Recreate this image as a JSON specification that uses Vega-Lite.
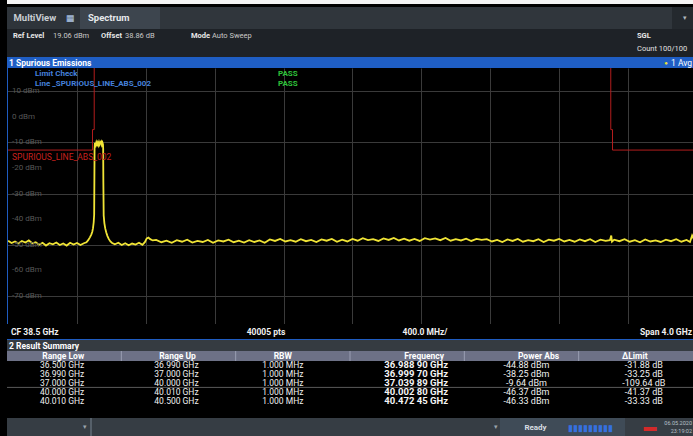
{
  "$schema": "https://vega.github.io/schema/vega-lite/v6.json",
  "background": "#000000",
  "padding": {"left": 7, "top": 0, "right": 0, "bottom": 0},
  "spacing": 0,
  "config": {
    "view": {"stroke": null},
    "font": "Roboto",
    "axis": {"labels": false, "ticks": false, "domain": false, "title": null, "gridColor": "#3a3a3a", "gridWidth": 1, "minExtent": 0, "maxExtent": 0, "offset": 0, "tickSize": 0, "labelPadding": 0, "titlePadding": 0},
    "concat": {"spacing": 0}
  },
  "datasets": {
    "limit": [
      {"i": 1, "f": 36.5, "l": -13}, {"i": 2, "f": 36.99, "l": -13}, {"i": 3, "f": 36.99, "l": -5},
      {"i": 4, "f": 37.0, "l": -5}, {"i": 5, "f": 37.0, "l": 100}, {"i": 6, "f": 40.0, "l": 100},
      {"i": 7, "f": 40.0, "l": -5}, {"i": 8, "f": 40.01, "l": -5}, {"i": 9, "f": 40.01, "l": -13},
      {"i": 10, "f": 40.5, "l": -13}
    ],
    "trace": [
      {"f": 36.5, "v": -48.4}, {"f": 36.52, "v": -49.3}, {"f": 36.54, "v": -48.7}, {"f": 36.56, "v": -49.5},
      {"f": 36.58, "v": -48.5}, {"f": 36.6, "v": -49.1}, {"f": 36.62, "v": -48.3}, {"f": 36.64, "v": -49.4},
      {"f": 36.66, "v": -49.0}, {"f": 36.68, "v": -50.0}, {"f": 36.7, "v": -49.2}, {"f": 36.72, "v": -50.3},
      {"f": 36.74, "v": -49.4}, {"f": 36.76, "v": -49.8}, {"f": 36.78, "v": -49.1}, {"f": 36.8, "v": -50.1},
      {"f": 36.82, "v": -49.5}, {"f": 36.84, "v": -50.3}, {"f": 36.86, "v": -49.2}, {"f": 36.88, "v": -49.9},
      {"f": 36.9, "v": -49.3}, {"f": 36.92, "v": -50.1}, {"f": 36.94, "v": -49.4}, {"f": 36.955, "v": -49.0},
      {"f": 36.965, "v": -48.2}, {"f": 36.975, "v": -47.1}, {"f": 36.983, "v": -46.0}, {"f": 36.9889, "v": -44.88},
      {"f": 36.993, "v": -43.5}, {"f": 36.997, "v": -41.2}, {"f": 36.9997, "v": -38.25}, {"f": 37.001, "v": -24},
      {"f": 37.002, "v": -12.5}, {"f": 37.004, "v": -10.2}, {"f": 37.008, "v": -11.0}, {"f": 37.012, "v": -10.0},
      {"f": 37.016, "v": -10.9}, {"f": 37.02, "v": -10.1}, {"f": 37.024, "v": -11.0}, {"f": 37.028, "v": -9.9},
      {"f": 37.032, "v": -10.8}, {"f": 37.036, "v": -10.0}, {"f": 37.0399, "v": -9.64}, {"f": 37.044, "v": -10.9},
      {"f": 37.048, "v": -10.1}, {"f": 37.051, "v": -10.8}, {"f": 37.052, "v": -12.5}, {"f": 37.053, "v": -25},
      {"f": 37.055, "v": -38.5}, {"f": 37.059, "v": -41.5}, {"f": 37.064, "v": -43.6}, {"f": 37.07, "v": -45.2},
      {"f": 37.077, "v": -46.6}, {"f": 37.085, "v": -47.8}, {"f": 37.094, "v": -48.7}, {"f": 37.104, "v": -49.3},
      {"f": 37.12, "v": -49.8}, {"f": 37.14, "v": -49.2}, {"f": 37.16, "v": -50.1}, {"f": 37.18, "v": -49.4},
      {"f": 37.2, "v": -50.2}, {"f": 37.22, "v": -49.5}, {"f": 37.24, "v": -49.9}, {"f": 37.26, "v": -49.2},
      {"f": 37.28, "v": -50.0}, {"f": 37.295, "v": -48.9}, {"f": 37.305, "v": -47.5}, {"f": 37.315, "v": -47.2},
      {"f": 37.325, "v": -47.8}, {"f": 37.34, "v": -48.3},
      {"f": 37.36, "v": -48.1}, {"f": 37.39, "v": -49.0}, {"f": 37.42, "v": -48.4}, {"f": 37.45, "v": -49.2},
      {"f": 37.48, "v": -48.2}, {"f": 37.51, "v": -48.8}, {"f": 37.54, "v": -48.0}, {"f": 37.57, "v": -49.1},
      {"f": 37.6, "v": -48.5}, {"f": 37.63, "v": -48.9}, {"f": 37.66, "v": -48.1}, {"f": 37.69, "v": -49.2},
      {"f": 37.72, "v": -48.3}, {"f": 37.75, "v": -48.7}, {"f": 37.78, "v": -48.0}, {"f": 37.81, "v": -49.0},
      {"f": 37.84, "v": -48.4}, {"f": 37.87, "v": -49.1}, {"f": 37.9, "v": -48.2}, {"f": 37.93, "v": -48.9},
      {"f": 37.96, "v": -48.3}, {"f": 37.99, "v": -49.2}, {"f": 38.02, "v": -47.9}, {"f": 38.05, "v": -48.5},
      {"f": 38.08, "v": -47.7}, {"f": 38.11, "v": -48.7}, {"f": 38.14, "v": -48.2}, {"f": 38.17, "v": -48.8},
      {"f": 38.2, "v": -47.8}, {"f": 38.23, "v": -48.6}, {"f": 38.26, "v": -48.1}, {"f": 38.29, "v": -48.9},
      {"f": 38.32, "v": -47.9}, {"f": 38.35, "v": -48.4}, {"f": 38.38, "v": -47.7}, {"f": 38.41, "v": -48.8},
      {"f": 38.44, "v": -48.0}, {"f": 38.47, "v": -48.7}, {"f": 38.5, "v": -47.7}, {"f": 38.53, "v": -48.4},
      {"f": 38.56, "v": -47.4}, {"f": 38.59, "v": -48.2}, {"f": 38.62, "v": -47.8}, {"f": 38.65, "v": -48.5},
      {"f": 38.68, "v": -47.5}, {"f": 38.71, "v": -48.1}, {"f": 38.74, "v": -47.3}, {"f": 38.77, "v": -48.3},
      {"f": 38.8, "v": -47.6}, {"f": 38.83, "v": -48.4}, {"f": 38.86, "v": -47.7}, {"f": 38.89, "v": -48.5},
      {"f": 38.92, "v": -47.4}, {"f": 38.95, "v": -48.0}, {"f": 38.98, "v": -47.5}, {"f": 39.01, "v": -48.2},
      {"f": 39.04, "v": -47.3}, {"f": 39.07, "v": -48.4}, {"f": 39.1, "v": -47.8}, {"f": 39.13, "v": -48.3},
      {"f": 39.16, "v": -47.6}, {"f": 39.19, "v": -48.5}, {"f": 39.22, "v": -47.7}, {"f": 39.25, "v": -48.1},
      {"f": 39.28, "v": -47.8}, {"f": 39.31, "v": -48.7}, {"f": 39.34, "v": -48.1}, {"f": 39.37, "v": -48.9},
      {"f": 39.4, "v": -47.9}, {"f": 39.43, "v": -48.5}, {"f": 39.46, "v": -47.7}, {"f": 39.49, "v": -48.8},
      {"f": 39.52, "v": -48.2}, {"f": 39.55, "v": -48.6}, {"f": 39.58, "v": -47.8}, {"f": 39.61, "v": -48.9},
      {"f": 39.64, "v": -48.0}, {"f": 39.67, "v": -48.4}, {"f": 39.7, "v": -47.7}, {"f": 39.73, "v": -48.7},
      {"f": 39.76, "v": -48.1}, {"f": 39.79, "v": -48.8}, {"f": 39.82, "v": -47.9}, {"f": 39.85, "v": -48.6},
      {"f": 39.88, "v": -47.8}, {"f": 39.91, "v": -48.9}, {"f": 39.94, "v": -48.0}, {"f": 39.97, "v": -48.5},
      {"f": 39.995, "v": -48.2}, {"f": 40.0028, "v": -46.37}, {"f": 40.007, "v": -48.8}, {"f": 40.02, "v": -48.0},
      {"f": 40.05, "v": -48.6}, {"f": 40.08, "v": -47.8}, {"f": 40.11, "v": -48.8}, {"f": 40.14, "v": -48.2},
      {"f": 40.17, "v": -49.0}, {"f": 40.2, "v": -47.9}, {"f": 40.23, "v": -48.7}, {"f": 40.26, "v": -48.3},
      {"f": 40.29, "v": -48.9}, {"f": 40.32, "v": -48.0}, {"f": 40.35, "v": -48.6}, {"f": 40.38, "v": -47.8},
      {"f": 40.41, "v": -48.8}, {"f": 40.44, "v": -48.1}, {"f": 40.46, "v": -48.9}, {"f": 40.47245, "v": -46.33},
      {"f": 40.485, "v": -48.2}
    ],
    "levels": [
      {"v": 10, "t": "10 dBm"}, {"v": 0, "t": "0 dBm"}, {"v": -10, "t": "-10 dBm"}, {"v": -20, "t": "-20 dBm"},
      {"v": -30, "t": "-30 dBm"}, {"v": -40, "t": "-40 dBm"}, {"v": -50, "t": "-50 dBm"}, {"v": -60, "t": "-60 dBm"},
      {"v": -70, "t": "-70 dBm"}
    ],
    "table": [
      {"Range Low": "36.500 GHz", "Range Up": "36.990 GHz", "RBW": "1.000 MHz", "Frequency": "36.988 90 GHz", "Power Abs": "-44.88 dBm", "ΔLimit": "-31.88 dB"},
      {"Range Low": "36.990 GHz", "Range Up": "37.000 GHz", "RBW": "1.000 MHz", "Frequency": "36.999 70 GHz", "Power Abs": "-38.25 dBm", "ΔLimit": "-33.25 dB"},
      {"Range Low": "37.000 GHz", "Range Up": "40.000 GHz", "RBW": "1.000 MHz", "Frequency": "37.039 89 GHz", "Power Abs": "-9.64 dBm", "ΔLimit": "-109.64 dB"},
      {"Range Low": "40.000 GHz", "Range Up": "40.010 GHz", "RBW": "1.000 MHz", "Frequency": "40.002 80 GHz", "Power Abs": "-46.37 dBm", "ΔLimit": "-41.37 dB"},
      {"Range Low": "40.010 GHz", "Range Up": "40.500 GHz", "RBW": "1.000 MHz", "Frequency": "40.472 45 GHz", "Power Abs": "-46.33 dBm", "ΔLimit": "-33.33 dB"}
    ],
    "cols": [
      {"c": "Range Low"}, {"c": "Range Up"}, {"c": "RBW"}, {"c": "Frequency"}, {"c": "Power Abs"}, {"c": "ΔLimit"}
    ],
    "one": [{}]
  },
  "vconcat": [
    {"width": 686, "height": 4, "view": {"fill": "#f4f4f4"}, "data": {"name": "one"}, "mark": {"type": "text", "text": "", "clip": true}},
    {"width": 686, "height": 3, "view": {"fill": "#000000"}, "data": {"name": "one"}, "mark": {"type": "text", "text": "", "clip": true}},
    {
      "hconcat": [
        {"width": 73, "height": 22, "view": {"fill": "#2e343a"}, "data": {"name": "one"}, "layer": [
          {"mark": {"type": "text", "text": "MultiView", "align": "left", "dx": -30, "fontSize": 9.5, "fontWeight": "bold", "color": "#c9ced3", "clip": true}},
          {"mark": {"type": "text", "text": "▦", "dx": 27, "fontSize": 9, "color": "#b8d0f0", "clip": true}}
        ]},
        {"width": 80, "height": 22, "view": {"fill": "#3d454e"}, "data": {"name": "one"},
          "mark": {"type": "text", "text": "Spectrum", "align": "left", "dx": -32, "fontSize": 9.5, "fontWeight": "bold", "color": "#e6e9ec", "clip": true}},
        {"width": 512, "height": 22, "view": {"fill": "#30363c"}, "data": {"name": "one"}, "mark": {"type": "text", "text": "", "clip": true}},
        {"width": 21, "height": 22, "view": {"fill": "#24292e"}, "data": {"name": "one"},
          "mark": {"type": "text", "text": "▾", "dx": 2, "fontSize": 7, "color": "#b0b6bc", "clip": true}}
      ],
      "spacing": 0
    },
    {"width": 686, "height": 28, "view": {"fill": "#1e2227"}, "data": {"name": "one"}, "layer": [
      {"mark": {"type": "text", "text": "Ref Level", "align": "left", "dx": -337, "dy": -7, "fontSize": 7.5, "fontWeight": "bold", "color": "#e8e8e8", "clip": true}},
      {"mark": {"type": "text", "text": "19.06 dBm", "align": "left", "dx": -297, "dy": -7, "fontSize": 7.5, "color": "#c8c8c8", "clip": true}},
      {"mark": {"type": "text", "text": "Offset", "align": "left", "dx": -249, "dy": -7, "fontSize": 7.5, "fontWeight": "bold", "color": "#e8e8e8", "clip": true}},
      {"mark": {"type": "text", "text": "38.86 dB", "align": "left", "dx": -225, "dy": -7, "fontSize": 7.5, "color": "#c8c8c8", "clip": true}},
      {"mark": {"type": "text", "text": "Mode", "align": "left", "dx": -159, "dy": -7, "fontSize": 7.5, "fontWeight": "bold", "color": "#e8e8e8", "clip": true}},
      {"mark": {"type": "text", "text": "Auto Sweep", "align": "left", "dx": -138, "dy": -7, "fontSize": 7.5, "color": "#c8c8c8", "clip": true}},
      {"mark": {"type": "text", "text": "SGL", "align": "left", "dx": 287, "dy": -7, "fontSize": 7.5, "fontWeight": "bold", "color": "#e8e8e8", "clip": true}},
      {"mark": {"type": "text", "text": "Count 100/100", "align": "left", "dx": 287, "dy": 6, "fontSize": 7.5, "color": "#e0e0e0", "clip": true}}
    ]},
    {"width": 686, "height": 11, "view": {"fill": "#1f5ec4"}, "data": {"name": "one"}, "layer": [
      {"mark": {"type": "text", "text": "1 Spurious Emissions", "align": "left", "dx": -341, "fontSize": 8.5, "fontWeight": "bold", "color": "#ffffff", "clip": true}},
      {"mark": {"type": "text", "text": "●", "dx": 316, "fontSize": 6, "color": "#ece43a", "clip": true}},
      {"mark": {"type": "text", "text": "1 Avg", "align": "left", "dx": 321, "fontSize": 8.5, "color": "#ffffff", "clip": true}}
    ]},
    {
      "width": 686, "height": 256,
      "view": {"fill": "#000000"},
      "layer": [
        {"data": {"name": "limit"}, "mark": {"type": "line", "color": "#b31d1d", "strokeWidth": 1, "clip": true},
          "encoding": {
            "x": {"field": "f", "type": "quantitative", "title": null, "scale": {"domain": [36.4935, 40.4775], "nice": false, "zero": false},
              "axis": {"values": [36.9, 37.3, 37.7, 38.1, 38.5, 38.9, 39.3, 39.7, 40.1], "grid": true, "title": null}},
            "y": {"field": "l", "type": "quantitative", "title": null, "scale": {"domain": [-80.94, 19.06], "nice": false, "zero": false},
              "axis": {"values": [10, 0, -10, -20, -30, -40, -50, -60, -70], "grid": true, "title": null}},
            "order": {"field": "i", "type": "quantitative"}
          }},
        {"data": {"name": "trace"}, "mark": {"type": "line", "color": "#f0e436", "strokeWidth": 1.8, "clip": true},
          "encoding": {
            "x": {"field": "f", "type": "quantitative", "title": null},
            "y": {"field": "v", "type": "quantitative", "title": null}
          }},
        {"data": {"name": "one"}, "mark": {"type": "rule", "color": "#1f5cc0", "strokeWidth": 2, "clip": true},
          "encoding": {"x": {"datum": 36.4935, "type": "quantitative", "title": null}}},
        {"data": {"name": "levels"}, "mark": {"type": "text", "align": "left", "dx": 5, "fontSize": 8, "color": "#575757", "clip": true},
          "encoding": {
            "x": {"datum": 36.4935, "type": "quantitative", "title": null},
            "y": {"field": "v", "type": "quantitative", "title": null},
            "text": {"field": "t"}
          }},
        {"data": {"name": "one"}, "mark": {"type": "text", "text": "Limit Check", "align": "left", "fontSize": 8, "fontWeight": "bold", "color": "#4580dc", "clip": true},
          "encoding": {"x": {"datum": 36.656, "type": "quantitative", "title": null}, "y": {"datum": 16.7, "type": "quantitative", "title": null}}},
        {"data": {"name": "one"}, "mark": {"type": "text", "text": "Line _SPURIOUS_LINE_ABS_002", "align": "left", "fontSize": 8, "fontWeight": "bold", "color": "#4580dc", "clip": true},
          "encoding": {"x": {"datum": 36.656, "type": "quantitative", "title": null}, "y": {"datum": 12.8, "type": "quantitative", "title": null}}},
        {"data": {"name": "one"}, "mark": {"type": "text", "text": "PASS", "align": "left", "fontSize": 8, "fontWeight": "bold", "color": "#2fc23a", "clip": true},
          "encoding": {"x": {"datum": 38.067, "type": "quantitative", "title": null}, "y": {"datum": 16.7, "type": "quantitative", "title": null}}},
        {"data": {"name": "one"}, "mark": {"type": "text", "text": "PASS", "align": "left", "fontSize": 8, "fontWeight": "bold", "color": "#2fc23a", "clip": true},
          "encoding": {"x": {"datum": 38.067, "type": "quantitative", "title": null}, "y": {"datum": 12.8, "type": "quantitative", "title": null}}},
        {"data": {"name": "one"}, "mark": {"type": "text", "text": "SPURIOUS_LINE_ABS_002", "align": "left", "fontSize": 8.5, "color": "#c8201e", "clip": true},
          "encoding": {"x": {"datum": 36.5225, "type": "quantitative", "title": null}, "y": {"datum": -15.7, "type": "quantitative", "title": null}}}
      ]
    },
    {"width": 686, "height": 15, "view": {"fill": "#000000"}, "data": {"name": "one"}, "layer": [
      {"mark": {"type": "text", "text": "CF 38.5 GHz", "align": "left", "dx": -339, "fontSize": 8.5, "fontWeight": "bold", "color": "#f0f0f0", "clip": true}},
      {"mark": {"type": "text", "text": "40005 pts", "dx": -84, "fontSize": 8.5, "fontWeight": "bold", "color": "#f0f0f0", "clip": true}},
      {"mark": {"type": "text", "text": "400.0 MHz/", "dx": 75, "fontSize": 8.5, "fontWeight": "bold", "color": "#f0f0f0", "clip": true}},
      {"mark": {"type": "text", "text": "Span 4.0 GHz", "align": "right", "dx": 342, "fontSize": 8.5, "fontWeight": "bold", "color": "#f0f0f0", "clip": true}}
    ]},
    {"width": 686, "height": 1, "view": {"fill": "#1f5cc0"}, "data": {"name": "one"}, "mark": {"type": "text", "text": "", "clip": true}},
    {"width": 686, "height": 11, "view": {"fill": "#353b41"}, "data": {"name": "one"},
      "mark": {"type": "text", "text": "2 Result Summary", "align": "left", "dx": -341, "fontSize": 8.5, "fontWeight": "bold", "color": "#ffffff", "clip": true}},
    {"width": 686, "height": 10, "view": {"fill": "#6d7186"}, "data": {"name": "cols"}, "layer": [
      {"transform": [{"filter": {"field": "c", "oneOf": ["Range Up", "RBW", "Frequency", "Power Abs", "ΔLimit"]}}],
        "mark": {"type": "rule", "color": "#9a9eb2", "clip": true},
        "encoding": {"x": {"field": "c", "type": "nominal", "bandPosition": 0, "axis": null,
          "scale": {"type": "band", "domain": ["Range Low", "Range Up", "RBW", "Frequency", "Power Abs", "ΔLimit"], "paddingInner": 0, "paddingOuter": 0}}}},
      {"transform": [{"filter": {"field": "c", "oneOf": ["Range Low", "Range Up", "ΔLimit"]}}],
        "mark": {"type": "text", "dx": -1, "fontSize": 8.5, "fontWeight": "bold", "color": "#ffffff", "clip": true},
        "encoding": {"x": {"field": "c", "type": "nominal", "axis": null,
          "scale": {"type": "band", "domain": ["Range Low", "Range Up", "RBW", "Frequency", "Power Abs", "ΔLimit"], "paddingInner": 0, "paddingOuter": 0}},
          "text": {"field": "c"}}},
      {"transform": [{"filter": {"field": "c", "equal": "RBW"}}],
        "mark": {"type": "text", "dx": -10, "fontSize": 8.5, "fontWeight": "bold", "color": "#ffffff", "clip": true},
        "encoding": {"x": {"field": "c", "type": "nominal", "axis": null,
          "scale": {"type": "band", "domain": ["Range Low", "Range Up", "RBW", "Frequency", "Power Abs", "ΔLimit"], "paddingInner": 0, "paddingOuter": 0}},
          "text": {"field": "c"}}},
      {"transform": [{"filter": {"field": "c", "oneOf": ["Frequency", "Power Abs"]}}],
        "mark": {"type": "text", "dx": 17, "fontSize": 8.5, "fontWeight": "bold", "color": "#ffffff", "clip": true},
        "encoding": {"x": {"field": "c", "type": "nominal", "axis": null,
          "scale": {"type": "band", "domain": ["Range Low", "Range Up", "RBW", "Frequency", "Power Abs", "ΔLimit"], "paddingInner": 0, "paddingOuter": 0}},
          "text": {"field": "c"}}}
    ]},
    {"width": 686, "height": 44, "view": {"fill": "#000000"}, "data": {"name": "table"},
      "transform": [{"fold": ["Range Low", "Range Up", "RBW", "Frequency", "Power Abs", "ΔLimit"]}],
      "encoding": {
        "x": {"field": "key", "type": "nominal", "axis": null,
          "scale": {"type": "band", "domain": ["Range Low", "Range Up", "RBW", "Frequency", "Power Abs", "ΔLimit"], "paddingInner": 0, "paddingOuter": 0}},
        "y": {"field": "Range Low", "type": "ordinal", "axis": null,
          "scale": {"type": "band", "domain": ["36.500 GHz", "36.990 GHz", "37.000 GHz", "40.000 GHz", "40.010 GHz"], "paddingInner": 0, "paddingOuter": 0}},
        "text": {"field": "value"}
      },
      "layer": [
        {"transform": [{"filter": {"field": "key", "equal": "Range Low"}}, {"filter": {"field": "Range Low", "equal": "40.000 GHz"}}],
          "mark": {"type": "rule", "color": "#5a5a5a", "clip": true},
          "encoding": {"x": null, "text": null,
            "y": {"field": "Range Low", "type": "ordinal", "bandPosition": 0, "axis": null,
              "scale": {"type": "band", "domain": ["36.500 GHz", "36.990 GHz", "37.000 GHz", "40.000 GHz", "40.010 GHz"], "paddingInner": 0, "paddingOuter": 0}}}},
        {"transform": [{"filter": {"field": "key", "oneOf": ["Range Low", "Range Up"]}}],
          "mark": {"type": "text", "dx": -2, "fontSize": 8.5, "color": "#f0f0f0", "clip": true}},
        {"transform": [{"filter": {"field": "key", "equal": "RBW"}}],
          "mark": {"type": "text", "dx": -10, "fontSize": 8.5, "color": "#f0f0f0", "clip": true}},
        {"transform": [{"filter": {"field": "key", "equal": "Frequency"}}],
          "mark": {"type": "text", "dx": 9, "fontSize": 9.5, "fontWeight": "bold", "color": "#f4f4f4", "clip": true}},
        {"transform": [{"filter": {"field": "key", "equal": "Power Abs"}}],
          "mark": {"type": "text", "dx": 5, "fontSize": 9, "color": "#f0f0f0", "clip": true}},
        {"transform": [{"filter": {"field": "key", "equal": "ΔLimit"}}],
          "mark": {"type": "text", "dx": 8, "fontSize": 9, "color": "#f0f0f0", "clip": true}}
      ]
    },
    {"width": 686, "height": 13, "view": {"fill": "#000000"}, "data": {"name": "one"}, "mark": {"type": "text", "text": "", "clip": true}},
    {
      "hconcat": [
        {"width": 83, "height": 18, "view": {"fill": "#363d44"}, "data": {"name": "one"},
          "mark": {"type": "text", "text": "▾", "dx": 36, "fontSize": 7, "color": "#9aa3ab", "clip": true}},
        {"width": 2, "height": 18, "view": {"fill": "#56606a"}, "data": {"name": "one"}, "mark": {"type": "text", "text": "", "clip": true}},
        {"width": 408, "height": 18, "view": {"fill": "#363d44"}, "data": {"name": "one"},
          "mark": {"type": "text", "text": "▾", "dx": 200, "fontSize": 7, "color": "#9aa3ab", "clip": true}},
        {"width": 125, "height": 18, "view": {"fill": "#3f4b57"}, "data": {"name": "one"}, "layer": [
          {"mark": {"type": "text", "text": "Ready", "dx": -27, "dy": 1, "fontSize": 8, "fontWeight": "bold", "color": "#d8dde2", "clip": true}},
          {"mark": {"type": "text", "text": "▮▮▮▮▮▮▮▮▮", "dx": 28, "dy": 1, "fontSize": 9, "color": "#3570e0", "clip": true}}
        ]},
        {"width": 68, "height": 18, "view": {"fill": "#363d44"}, "data": {"name": "one"}, "layer": [
          {"mark": {"type": "text", "text": "▬", "dx": -9, "fontSize": 13, "color": "#d42a2a", "clip": true}},
          {"mark": {"type": "text", "text": "06.05.2020", "align": "right", "dx": 33, "dy": -4, "fontSize": 5.5, "color": "#b8c0c8", "clip": true}},
          {"mark": {"type": "text", "text": "23:19:02", "align": "right", "dx": 33, "dy": 3.5, "fontSize": 5.5, "color": "#b8c0c8", "clip": true}}
        ]}
      ],
      "spacing": 0
    }
  ]
}
